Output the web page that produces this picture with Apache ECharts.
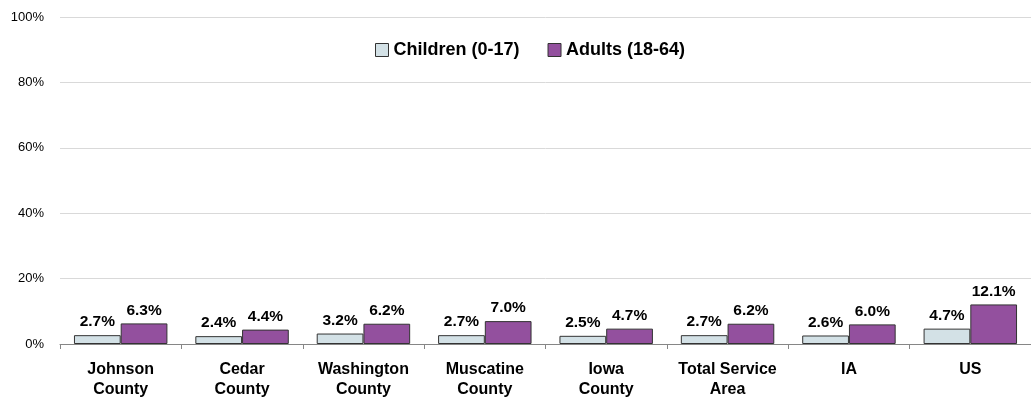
<!DOCTYPE html>
<html><head><meta charset="utf-8">
<script src="https://cdn.jsdelivr.net/npm/echarts@6/dist/echarts.min.js"></script>
<style>html,body{margin:0;padding:0;background:#fff}#c{width:1031px;height:401px}</style>
</head><body><div id="c"></div>
<script>
const categories = ['Johnson\nCounty','Cedar\nCounty','Washington\nCounty','Muscatine\nCounty','Iowa\nCounty','Total Service\nArea','IA','US'];
const children = [2.7,2.4,3.2,2.7,2.5,2.7,2.6,4.7];
const adults = [6.3,4.4,6.2,7.0,4.7,6.2,6.0,12.1];
const yTicks = [0,20,40,60,80,100];
const FONT = '"Liberation Sans", Arial, sans-serif';
const chart = echarts.init(document.getElementById('c'));
const lbl = {show:true,position:'top',distance:5,formatter:p=>p.value.toFixed(1)+'%',fontFamily:FONT,fontWeight:'bold',fontSize:15.5,color:'#000'};
chart.setOption({
  animation:false,
  textStyle:{fontFamily:FONT},
  legend:{top:41,left:375,padding:0,icon:'rect',itemWidth:13,itemHeight:13,itemGap:28,
    textStyle:{fontFamily:FONT,fontWeight:'bold',fontSize:18,color:'#000'},
    data:[{name:'Children (0-17)',itemStyle:{borderColor:'#333',borderWidth:1}},{name:'Adults (18-64)',itemStyle:{borderColor:'#333',borderWidth:1}}]},
  grid:{left:60,top:17,bottom:57,width:981},
  xAxis:{type:'category',data:categories,
    axisLine:{lineStyle:{color:'#868686'}},
    axisTick:{show:true,length:5,lineStyle:{color:'#868686'}},
    axisLabel:{fontFamily:FONT,fontWeight:'bold',fontSize:16,color:'#000',lineHeight:20,margin:16,interval:0}},
  yAxis:{type:'value',min:yTicks[0],max:yTicks[yTicks.length-1],interval:20,
    axisLabel:{formatter:'{value}%',fontFamily:FONT,fontSize:13,color:'#000',margin:16},
    splitLine:{lineStyle:{color:'#D9D9D9'}},axisLine:{show:false},axisTick:{show:false}},
  series:[
    {name:'Children (0-17)',type:'bar',data:children,barGap:'0%',barCategoryGap:'23%',
     itemStyle:{color:'#D3E1E6',borderColor:'#333',borderWidth:1},label:lbl},
    {name:'Adults (18-64)',type:'bar',data:adults,
     itemStyle:{color:'#93509E',borderColor:'#333',borderWidth:1},label:lbl}
  ]
});
</script></body></html>
